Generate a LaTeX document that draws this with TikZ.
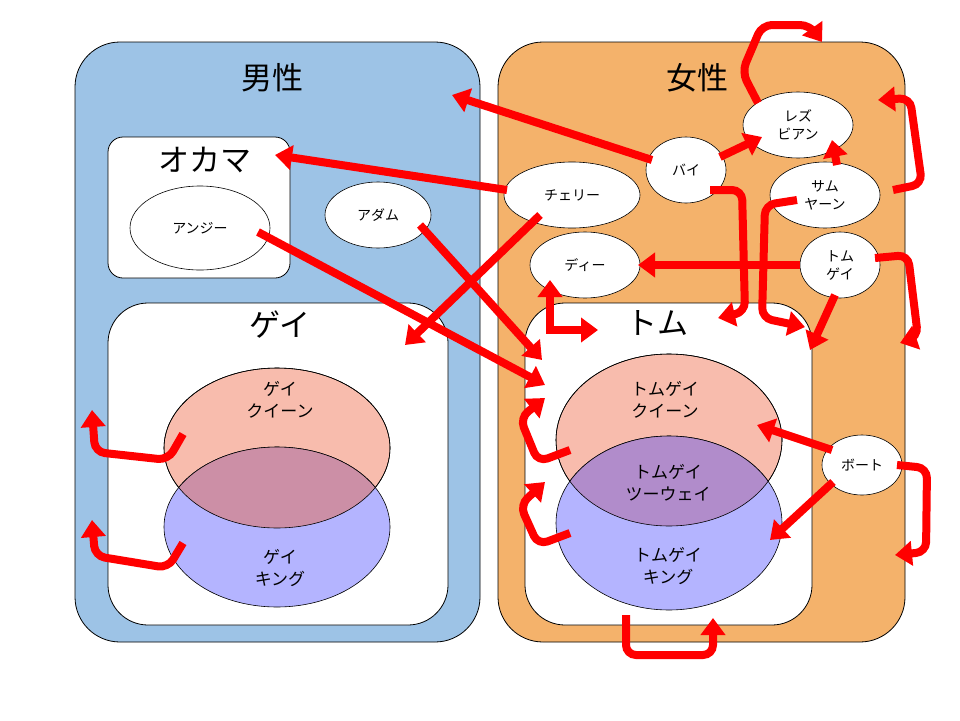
\documentclass[tikz,border=0pt]{standalone}
\usepackage{fontspec}
\setmainfont{Noto Sans CJK JP}
\usetikzlibrary{arrows.meta}
\definecolor{mblue}{HTML}{9DC3E6}
\definecolor{forange}{HTML}{F4B26B}
\definecolor{queen}{HTML}{F8BCAD}
\definecolor{king}{HTML}{B4B4FF}
\definecolor{gmix}{HTML}{CC8FA6}
\definecolor{tmix}{HTML}{B18CCB}
\definecolor{arr}{HTML}{FF0000}
\begin{document}
\begin{tikzpicture}[x=1pt,y=-1pt,
  big/.style={draw=black,line width=0.8pt,rounded corners=45pt},
  wbox/.style={draw=black,fill=white,line width=0.8pt},
  lab/.style={font=\fontsize{17}{22}\selectfont,align=center,inner sep=0pt},
  slab/.style={font=\fontsize{14}{18}\selectfont,align=center,inner sep=0pt},
  ttl/.style={font=\fontsize{31}{33}\selectfont,inner sep=0pt},
  ar/.style={draw=arr,line width=8pt,rounded corners=10pt,-{Triangle[length=17pt,width=24pt]}},
  arr2/.style={draw=arr,line width=8pt,{Triangle[length=17pt,width=24pt]}-{Triangle[length=17pt,width=24pt]}}]
\useasboundingbox (0,0) rectangle (960,720);
\fill[white] (0,0) rectangle (960,720);
% big regions
\draw[big,fill=mblue] (75,42) rectangle (480,642);
\draw[big,fill=forange] (498,42) rectangle (905,642);
\draw[wbox,rounded corners=15pt] (108,137) rectangle (290,278);
\draw[wbox,rounded corners=40pt] (108,303) rectangle (448,625);
\draw[wbox,rounded corners=40pt] (525,303) rectangle (812,625);
% titles
\node[ttl] (male) at (272,78) {男性};
\node[ttl] (female) at (697,78) {女性};
\node[ttl] (okama) at (205,160) {オカマ};
\node[ttl] (gay) at (280,325) {ゲイ};
\node[ttl] (tom) at (657,323) {トム};
% gay ellipses
\draw[fill=queen,line width=0.6pt] (277,448) ellipse [x radius=113,y radius=80];
\draw[fill=king,line width=0.6pt] (277,527) ellipse [x radius=113,y radius=80];
\begin{scope}
\clip (277,448) ellipse [x radius=113,y radius=80];
\draw[fill=gmix,line width=0.6pt] (277,527) ellipse [x radius=113,y radius=80];
\end{scope}
\draw[line width=0.6pt] (277,448) ellipse [x radius=113,y radius=80];
\node[lab] (gq) at (280,400) {ゲイ\\クイーン};
\node[lab] (gk) at (280,568) {ゲイ\\キング};
% tom ellipses
\draw[fill=queen,line width=0.6pt] (669,440) ellipse [x radius=113,y radius=86];
\draw[fill=king,line width=0.6pt] (669,523) ellipse [x radius=113,y radius=87];
\begin{scope}
\clip (669,440) ellipse [x radius=113,y radius=86];
\draw[fill=tmix,line width=0.6pt] (669,523) ellipse [x radius=113,y radius=87];
\end{scope}
\draw[line width=0.6pt] (669,440) ellipse [x radius=113,y radius=86];
\node[lab] (tq) at (665,400) {トムゲイ\\クイーン};
\node[lab] (tt) at (668,483) {トムゲイ\\ツーウェイ};
\node[lab] (tk) at (668,566) {トムゲイ\\キング};
% small ellipses
\newcommand{\myell}[6]{\draw[fill=white,line width=0.6pt] (#2,#3) ellipse [x radius=#4,y radius=#5]; \node[slab] (#1) at (#2,#3) {#6};}
\myell{angie}{200}{228}{70}{42}{アンジー}
\myell{adam}{378}{215}{53}{33}{アダム}
\myell{cherry}{572}{195}{68}{33}{チェリー}
\myell{bi}{686}{170}{40}{33}{バイ}
\myell{lez}{798}{125}{55}{33}{レズ\\ビアン}
\myell{sam}{825}{195}{55}{33}{サム\\ヤーン}
\myell{tg}{840}{265}{40}{33}{トム\\ゲイ}
\myell{dee}{585}{265}{55}{33}{ディー}
\myell{boat}{862}{465}{40}{30}{ボート}
% connector end coordinates
\coordinate (e1) at (452,95);
\coordinate (e2) at (275,155);
\coordinate (e3) at (405,345);
\coordinate (e4) at (545,385);
\coordinate (e5) at (542,360);
\coordinate (e7) at (822,42);
\coordinate (e9) at (878,100);
\coordinate (e10) at (718,318);
\coordinate (e11) at (805,327);
\coordinate (e13) at (810,350);
\coordinate (e14) at (900,343);
\coordinate (e15) at (598,330);
\coordinate (e16) at (545,398);
\coordinate (e17) at (545,482);
\coordinate (e18) at (757,425);
\coordinate (e19) at (770,540);
\coordinate (e20) at (895,555);
\coordinate (e21) at (713,618);
\coordinate (e22) at (92,410);
\coordinate (e23) at (92,520);
% arrows
\draw[ar] (652,160) -- (e1);
\draw[ar] (507,190) -- (e2);
\draw[ar] (540,215) -- (e3);
\draw[ar] (258,232) -- (e4);
\draw[ar] (420,225) -- (e5);
\draw[ar] (720,157) -- (762,137);
\draw[ar] (758,103) -- (742,72) -- (762,25) -- (810,25) -- (e7);
\draw[ar] (837,165) -- (832,140);
\draw[ar] (893,190) -- (922,184) -- (910,98) -- (e9);
\draw[ar] (710,190) -- (742,190) -- (745,312) -- (e10);
\draw[ar] (797,200) -- (765,205) -- (762,318) -- (e11);
\draw[ar] (800,265) -- (638,265);
\draw[ar] (835,295) -- (e13);
\draw[ar] (875,258) -- (908,255) -- (918,337) -- (e14);
\draw[arr2] (550,280) -- (550,330) -- (e15);
\draw[ar] (570,450) -- (538,462) -- (520,418) -- (e16);
\draw[ar] (570,533) -- (538,545) -- (520,505) -- (e17);
\draw[ar] (832,450) -- (e18);
\draw[ar] (833,482) -- (e19);
\draw[ar] (897,465) -- (927,468) -- (926,552) -- (e20);
\draw[ar] (626,615) -- (626,655) -- (713,655) -- (e21);
\draw[ar] (183,434) -- (168,460) -- (95,452) -- (e22);
\draw[ar] (183,543) -- (168,568) -- (95,556) -- (e23);
\end{tikzpicture}
\end{document}
